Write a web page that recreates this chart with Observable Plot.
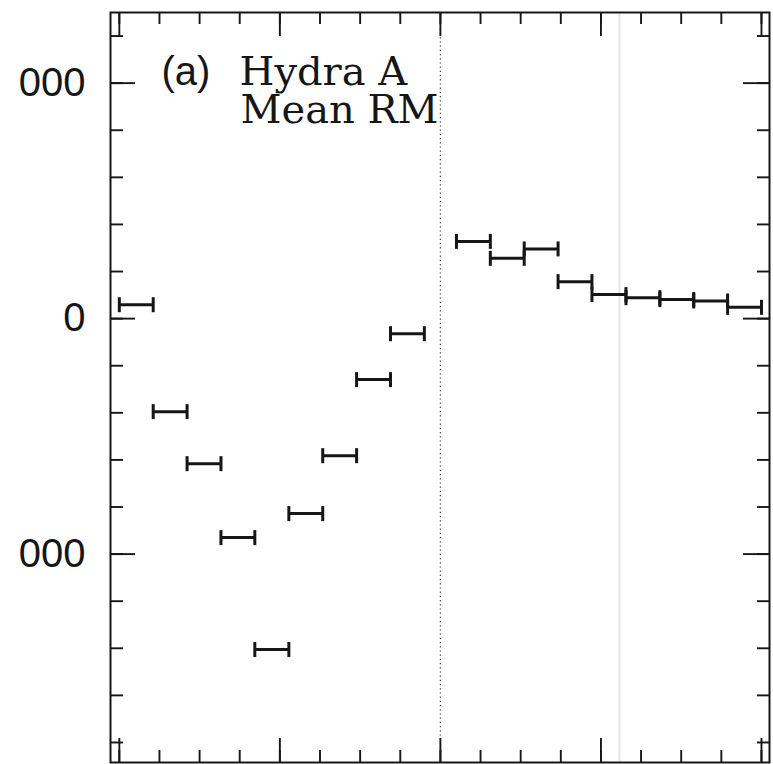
<!DOCTYPE html>
<html>
<head>
<meta charset="utf-8">
<script src="https://cdn.jsdelivr.net/npm/d3@7"></script>
<script src="https://cdn.jsdelivr.net/npm/@observablehq/plot@0.6"></script>
<style>
html,body{margin:0;padding:0;background:#fff;}
#chart svg{display:block;}
</style>
</head>
<body>
<div id="chart"></div>
<script>
// Bin edges (distance along the source, core at 0)
const binStart = [-20.0, -17.89, -15.78, -13.67, -11.56, -9.44, -7.33, -5.22, -3.11,
                   1.0, 3.11, 5.22, 7.33, 9.44, 11.56, 13.67, 15.78, 17.89];
const binEnd   = [-17.89, -15.78, -13.67, -11.56, -9.44, -7.33, -5.22, -3.11, -1.0,
                   3.11, 5.22, 7.33, 9.44, 11.56, 13.67, 15.78, 17.89, 20.0];
// Mean RM in each bin
const meanRM   = [59, -395, -616, -930, -1405, -828, -582, -259, -64,
                  328, 256, 296, 157, 102, 89, 81, 75, 48];

// Axis ticks
const yMinorTicks = d3.range(-1800, 1201, 200);
const yMajorTicks = [1000, 0, -1000];
const yTickLabels = ["000", "0", "000"];
const xMinorTicks = d3.range(-20, 20.01, 2.5);
const xMajorTicks = [-20, -10, 0, 10, 20];
const coreX = [0];
const scanLineX = [11.15];

const labelPanel = "(a)";
const labelSource = "Hydra A";
const labelQuantity = "Mean RM";

const bins = binStart.map((s, i) => ({x1: s, x2: binEnd[i], rm: meanRM[i]}));
const caps = bins.flatMap(b => [{x: b.x1, rm: b.rm}, {x: b.x2, rm: b.rm}]);

const W = 773, H = 764;
const mL = 110, mR = 4, mT = 12, mB = 2;
const pW = W - mL - mR, pH = H - mT - mB;

const capSymbol = {
  draw(ctx, size) {
    const r = Math.sqrt(size / Math.PI);
    ctx.moveTo(0, -r);
    ctx.lineTo(0, r);
  }
};

const ink = "#161616";
const tw = 1.9;

const chart = Plot.plot({
  width: W,
  height: H,
  marginLeft: mL,
  marginRight: mR,
  marginTop: mT,
  marginBottom: mB,
  style: {background: "#fff", color: ink, fontFamily: "Liberation Sans"},
  x: {domain: [-20.55, 20.5], axis: null},
  y: {domain: [-1885, 1300], axis: null},
  marks: [
    Plot.ruleX(scanLineX, {stroke: "#e4e4f2", strokeWidth: 2}),
    Plot.ruleX(coreX, {stroke: "#444", strokeWidth: 1.3, strokeDasharray: "1.2,3"}),
    // inward ticks: bottom
    Plot.tickX(xMinorTicks, {x: d => d, stroke: ink, strokeWidth: tw, insetTop: pH - 12}),
    Plot.tickX(xMajorTicks, {x: d => d, stroke: ink, strokeWidth: tw, insetTop: pH - 24}),
    // top
    Plot.tickX(xMinorTicks, {x: d => d, stroke: ink, strokeWidth: tw, insetBottom: pH - 12}),
    Plot.tickX(xMajorTicks, {x: d => d, stroke: ink, strokeWidth: tw, insetBottom: pH - 24}),
    // left
    Plot.tickY(yMinorTicks, {y: d => d, stroke: ink, strokeWidth: tw, insetRight: pW - 13}),
    Plot.tickY(yMajorTicks, {y: d => d, stroke: ink, strokeWidth: tw, insetRight: pW - 25}),
    // right
    Plot.tickY(yMinorTicks, {y: d => d, stroke: ink, strokeWidth: tw, insetLeft: pW - 12}),
    Plot.tickY(yMajorTicks, {y: d => d, stroke: ink, strokeWidth: tw, insetLeft: pW - 26}),
    Plot.axisY({
      ticks: yMajorTicks,
      tickSize: 0,
      tickPadding: 25,
      tickFormat: d => yTickLabels[yMajorTicks.indexOf(d)],
      fontSize: 40,
      fontFamily: "Liberation Sans",
      fill: ink,
      label: null
    }),
    Plot.frame({stroke: ink, strokeWidth: 2}),
    // error-bar style bins
    Plot.ruleY(bins, {x1: "x1", x2: "x2", y: "rm", stroke: ink, strokeWidth: 3}),
    Plot.dot(caps, {x: "x", y: "rm", symbol: capSymbol, r: 7.5, stroke: ink, strokeWidth: 3, fill: "none"}),
    // annotation
    Plot.text([labelPanel], {
      frameAnchor: "top-left", dx: 51, dy: 44,
      text: d => d, textAnchor: "start", lineAnchor: "top",
      fontSize: 40, fontFamily: "Liberation Sans", fill: ink
    }),
    Plot.text([labelSource], {
      frameAnchor: "top-left", dx: 129, dy: 44,
      text: d => d, textAnchor: "start", lineAnchor: "top",
      fontSize: 40, fontFamily: "DejaVu Serif", fill: ink
    }),
    Plot.text([labelQuantity], {
      frameAnchor: "top-left", dx: 130, dy: 82,
      text: d => d, textAnchor: "start", lineAnchor: "top",
      fontSize: 40, fontFamily: "DejaVu Serif", fill: ink
    })
  ]
});

document.getElementById("chart").appendChild(chart);
</script>
</body>
</html>
